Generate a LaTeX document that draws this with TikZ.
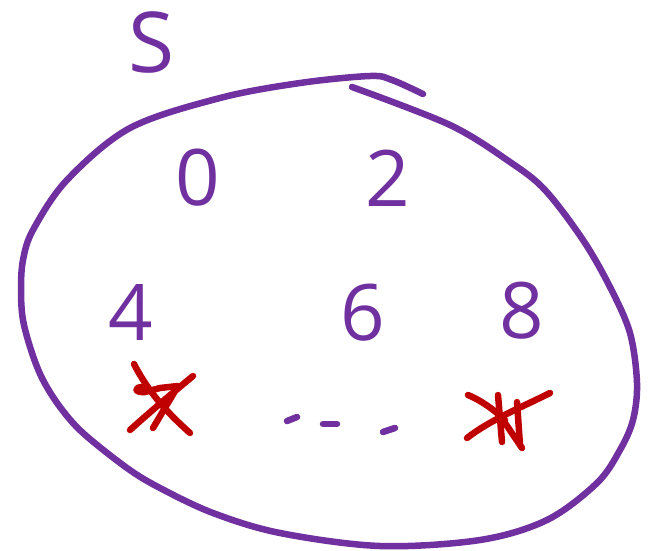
\documentclass[tikz,border=0pt]{standalone}
\usepackage{fontspec}
\setmainfont{Open Sans}
\definecolor{pen}{HTML}{7030A0}
\definecolor{redpen}{HTML}{C00000}
\begin{document}
\begin{tikzpicture}[x=1pt,y=-1pt,
  ink/.style={draw=pen,line width=6.5pt,line cap=round,line join=round},
  rink/.style={draw=redpen,line width=6.5pt,line cap=round,line join=round},
  digit/.style={text=pen,inner sep=0pt,anchor=base,font=\fontsize{78}{78}\selectfont},
  setname/.style={text=pen,inner sep=0pt,anchor=base,font=\fontsize{84}{84}\selectfont}]
\useasboundingbox (0,0) rectangle (649,550);
% set outline
\draw[ink] plot[smooth,tension=0.55] coordinates {(352,87) (450,125) (510,162) (545,190) (583,240) (610,287) (630,333) (637,383) (633,420) (620,450) (597,483) (547,520) (480,540) (380,546) (280,533) (213,513) (160,488) (127,468) (83,433) (60,407) (43,380) (32,353) (23,320) (21,290) (23,260) (33,230) (67,180) (130,128) (220,98) (300,83) (370,76) (392,80) (423,94)};
% labels
\node[setname] (S) at (152,72) {S};
\node[digit] (n0) at (198,205) {0};
\node[digit] (n2) at (388,206) {2};
\node[digit] (n4) at (131,340) {4};
\node[digit] (n6) at (363,340) {6};
\node[digit] (n8) at (522,338) {8};
% dots
\draw[ink] (287,421) -- (297,417);
\draw[ink] (323,424) -- (337,424);
\draw[ink] (383,432) -- (395,428);
% crossed-out 7
\draw[rink] (134,364) .. controls (150,395) and (170,415) .. (190,433);
\draw[rink] (193,376) .. controls (170,395) and (150,412) .. (130,430);
\draw[rink] (143,387) .. controls (133,387) and (135,393) .. (145,392) -- (160,388) -- (178,386) -- (153,428);
% crossed-out 11
\draw[rink] (468,395) .. controls (480,400) and (492,408) .. (505,420);
\draw[rink] (467,438) .. controls (490,420) and (520,408) .. (550,393);
\draw[rink] (498,395) -- (502,442);
\draw[rink] (503,420) -- (522,448);
\draw[rink] (517,402) -- (520,445);
\end{tikzpicture}
\end{document}
